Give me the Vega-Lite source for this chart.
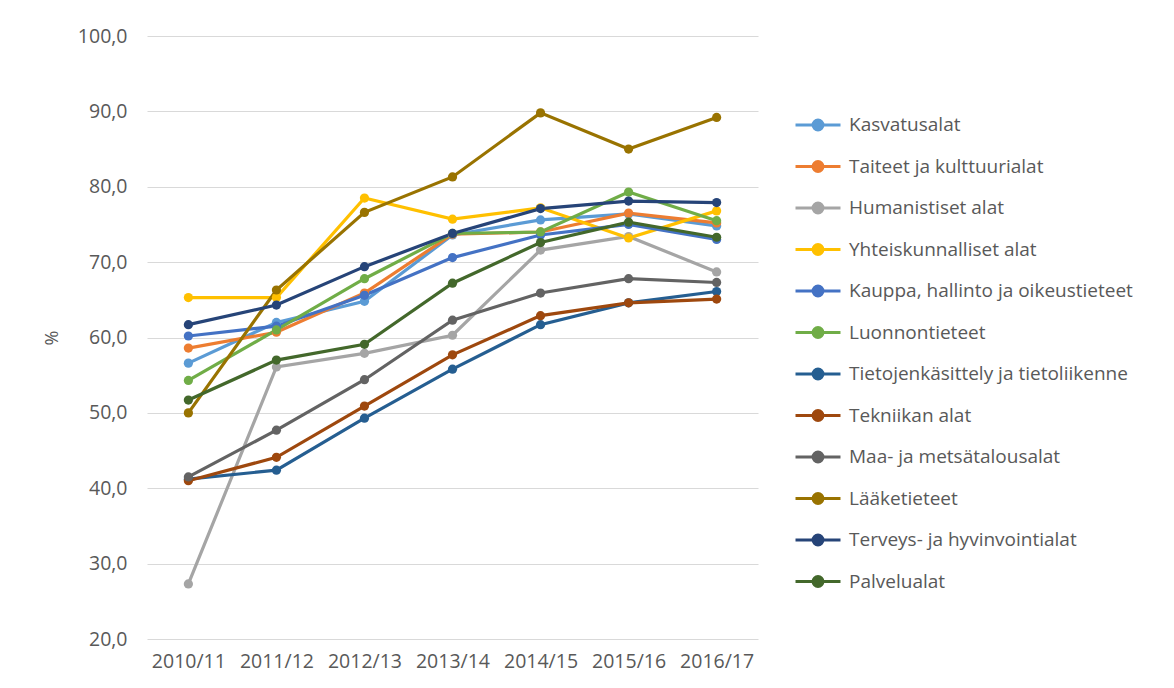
{
  "$schema": "https://vega.github.io/schema/vega-lite/v6.json",
  "autosize": "none",
  "width": 611,
  "height": 603,
  "padding": {"left": 147, "top": 36, "right": 416, "bottom": 49},
  "background": "white",
  "config": {
    "view": {"stroke": null},
    "font": "Open Sans",
    "axis": {"labelFont": "Open Sans", "labelColor": "#595959", "titleColor": "#595959", "titleFont": "Open Sans"}
  },
  "datasets": {
    "d": [
      {"ala": "Kasvatusalat", "vuosi": "2010/11", "osuus": 56.6},
      {"ala": "Kasvatusalat", "vuosi": "2011/12", "osuus": 62.0},
      {"ala": "Kasvatusalat", "vuosi": "2012/13", "osuus": 64.8},
      {"ala": "Kasvatusalat", "vuosi": "2013/14", "osuus": 73.6},
      {"ala": "Kasvatusalat", "vuosi": "2014/15", "osuus": 75.6},
      {"ala": "Kasvatusalat", "vuosi": "2015/16", "osuus": 76.4},
      {"ala": "Kasvatusalat", "vuosi": "2016/17", "osuus": 74.8},

      {"ala": "Taiteet ja kulttuurialat", "vuosi": "2010/11", "osuus": 58.6},
      {"ala": "Taiteet ja kulttuurialat", "vuosi": "2011/12", "osuus": 60.7},
      {"ala": "Taiteet ja kulttuurialat", "vuosi": "2012/13", "osuus": 65.9},
      {"ala": "Taiteet ja kulttuurialat", "vuosi": "2013/14", "osuus": 73.7},
      {"ala": "Taiteet ja kulttuurialat", "vuosi": "2014/15", "osuus": 74.0},
      {"ala": "Taiteet ja kulttuurialat", "vuosi": "2015/16", "osuus": 76.5},
      {"ala": "Taiteet ja kulttuurialat", "vuosi": "2016/17", "osuus": 75.2},

      {"ala": "Humanistiset alat", "vuosi": "2010/11", "osuus": 27.3},
      {"ala": "Humanistiset alat", "vuosi": "2011/12", "osuus": 56.1},
      {"ala": "Humanistiset alat", "vuosi": "2012/13", "osuus": 57.9},
      {"ala": "Humanistiset alat", "vuosi": "2013/14", "osuus": 60.3},
      {"ala": "Humanistiset alat", "vuosi": "2014/15", "osuus": 71.6},
      {"ala": "Humanistiset alat", "vuosi": "2015/16", "osuus": 73.4},
      {"ala": "Humanistiset alat", "vuosi": "2016/17", "osuus": 68.7},

      {"ala": "Yhteiskunnalliset alat", "vuosi": "2010/11", "osuus": 65.3},
      {"ala": "Yhteiskunnalliset alat", "vuosi": "2011/12", "osuus": 65.3},
      {"ala": "Yhteiskunnalliset alat", "vuosi": "2012/13", "osuus": 78.5},
      {"ala": "Yhteiskunnalliset alat", "vuosi": "2013/14", "osuus": 75.7},
      {"ala": "Yhteiskunnalliset alat", "vuosi": "2014/15", "osuus": 77.2},
      {"ala": "Yhteiskunnalliset alat", "vuosi": "2015/16", "osuus": 73.2},
      {"ala": "Yhteiskunnalliset alat", "vuosi": "2016/17", "osuus": 76.8},

      {"ala": "Kauppa, hallinto ja oikeustieteet", "vuosi": "2010/11", "osuus": 60.2},
      {"ala": "Kauppa, hallinto ja oikeustieteet", "vuosi": "2011/12", "osuus": 61.5},
      {"ala": "Kauppa, hallinto ja oikeustieteet", "vuosi": "2012/13", "osuus": 65.6},
      {"ala": "Kauppa, hallinto ja oikeustieteet", "vuosi": "2013/14", "osuus": 70.6},
      {"ala": "Kauppa, hallinto ja oikeustieteet", "vuosi": "2014/15", "osuus": 73.6},
      {"ala": "Kauppa, hallinto ja oikeustieteet", "vuosi": "2015/16", "osuus": 75.0},
      {"ala": "Kauppa, hallinto ja oikeustieteet", "vuosi": "2016/17", "osuus": 73.0},

      {"ala": "Luonnontieteet", "vuosi": "2010/11", "osuus": 54.3},
      {"ala": "Luonnontieteet", "vuosi": "2011/12", "osuus": 61.0},
      {"ala": "Luonnontieteet", "vuosi": "2012/13", "osuus": 67.8},
      {"ala": "Luonnontieteet", "vuosi": "2013/14", "osuus": 73.8},
      {"ala": "Luonnontieteet", "vuosi": "2014/15", "osuus": 74.0},
      {"ala": "Luonnontieteet", "vuosi": "2015/16", "osuus": 79.3},
      {"ala": "Luonnontieteet", "vuosi": "2016/17", "osuus": 75.5},

      {"ala": "Tietojenkäsittely ja tietoliikenne", "vuosi": "2010/11", "osuus": 41.2},
      {"ala": "Tietojenkäsittely ja tietoliikenne", "vuosi": "2011/12", "osuus": 42.4},
      {"ala": "Tietojenkäsittely ja tietoliikenne", "vuosi": "2012/13", "osuus": 49.3},
      {"ala": "Tietojenkäsittely ja tietoliikenne", "vuosi": "2013/14", "osuus": 55.8},
      {"ala": "Tietojenkäsittely ja tietoliikenne", "vuosi": "2014/15", "osuus": 61.7},
      {"ala": "Tietojenkäsittely ja tietoliikenne", "vuosi": "2015/16", "osuus": 64.6},
      {"ala": "Tietojenkäsittely ja tietoliikenne", "vuosi": "2016/17", "osuus": 66.1},

      {"ala": "Tekniikan alat", "vuosi": "2010/11", "osuus": 41.0},
      {"ala": "Tekniikan alat", "vuosi": "2011/12", "osuus": 44.1},
      {"ala": "Tekniikan alat", "vuosi": "2012/13", "osuus": 50.9},
      {"ala": "Tekniikan alat", "vuosi": "2013/14", "osuus": 57.7},
      {"ala": "Tekniikan alat", "vuosi": "2014/15", "osuus": 62.9},
      {"ala": "Tekniikan alat", "vuosi": "2015/16", "osuus": 64.6},
      {"ala": "Tekniikan alat", "vuosi": "2016/17", "osuus": 65.1},

      {"ala": "Maa- ja metsätalousalat", "vuosi": "2010/11", "osuus": 41.5},
      {"ala": "Maa- ja metsätalousalat", "vuosi": "2011/12", "osuus": 47.7},
      {"ala": "Maa- ja metsätalousalat", "vuosi": "2012/13", "osuus": 54.4},
      {"ala": "Maa- ja metsätalousalat", "vuosi": "2013/14", "osuus": 62.3},
      {"ala": "Maa- ja metsätalousalat", "vuosi": "2014/15", "osuus": 65.9},
      {"ala": "Maa- ja metsätalousalat", "vuosi": "2015/16", "osuus": 67.8},
      {"ala": "Maa- ja metsätalousalat", "vuosi": "2016/17", "osuus": 67.3},

      {"ala": "Lääketieteet", "vuosi": "2010/11", "osuus": 50.0},
      {"ala": "Lääketieteet", "vuosi": "2011/12", "osuus": 66.3},
      {"ala": "Lääketieteet", "vuosi": "2012/13", "osuus": 76.6},
      {"ala": "Lääketieteet", "vuosi": "2013/14", "osuus": 81.3},
      {"ala": "Lääketieteet", "vuosi": "2014/15", "osuus": 89.8},
      {"ala": "Lääketieteet", "vuosi": "2015/16", "osuus": 85.0},
      {"ala": "Lääketieteet", "vuosi": "2016/17", "osuus": 89.2},

      {"ala": "Terveys- ja hyvinvointialat", "vuosi": "2010/11", "osuus": 61.7},
      {"ala": "Terveys- ja hyvinvointialat", "vuosi": "2011/12", "osuus": 64.3},
      {"ala": "Terveys- ja hyvinvointialat", "vuosi": "2012/13", "osuus": 69.4},
      {"ala": "Terveys- ja hyvinvointialat", "vuosi": "2013/14", "osuus": 73.8},
      {"ala": "Terveys- ja hyvinvointialat", "vuosi": "2014/15", "osuus": 77.1},
      {"ala": "Terveys- ja hyvinvointialat", "vuosi": "2015/16", "osuus": 78.1},
      {"ala": "Terveys- ja hyvinvointialat", "vuosi": "2016/17", "osuus": 77.9},

      {"ala": "Palvelualat", "vuosi": "2010/11", "osuus": 51.7},
      {"ala": "Palvelualat", "vuosi": "2011/12", "osuus": 57.0},
      {"ala": "Palvelualat", "vuosi": "2012/13", "osuus": 59.1},
      {"ala": "Palvelualat", "vuosi": "2013/14", "osuus": 67.2},
      {"ala": "Palvelualat", "vuosi": "2014/15", "osuus": 72.6},
      {"ala": "Palvelualat", "vuosi": "2015/16", "osuus": 75.3},
      {"ala": "Palvelualat", "vuosi": "2016/17", "osuus": 73.3}
    ]
  },
  "data": {"name": "d"},
  "encoding": {
    "x": {
      "field": "vuosi", "type": "ordinal",
      "scale": {"type": "point", "padding": 0.47},
      "axis": {"title": null, "labelAngle": 0, "ticks": false, "domain": false, "labelFontSize": 19.5, "labelPadding": 13, "grid": false}
    },
    "y": {
      "field": "osuus", "type": "quantitative",
      "scale": {"domain": [20, 100], "nice": false, "zero": false},
      "axis": {
        "title": "%", "titleFontSize": 18, "titleFontWeight": "normal", "titleAngle": 270, "titlePadding": 16,
        "values": [20, 30, 40, 50, 60, 70, 80, 90, 100],
        "labelExpr": "replace(format(datum.value, '.1f'), '.', ',')",
        "labelFontSize": 19.5, "labelPadding": 20, "ticks": false, "domain": false,
        "grid": true, "gridColor": "#d9d9d9", "gridWidth": 1
      }
    },
    "color": {
      "field": "ala", "type": "nominal",
      "scale": {
        "domain": ["Kasvatusalat", "Taiteet ja kulttuurialat", "Humanistiset alat", "Yhteiskunnalliset alat", "Kauppa, hallinto ja oikeustieteet", "Luonnontieteet", "Tietojenkäsittely ja tietoliikenne", "Tekniikan alat", "Maa- ja metsätalousalat", "Lääketieteet", "Terveys- ja hyvinvointialat", "Palvelualat"],
        "range": ["#5B9BD5", "#ED7D31", "#A5A5A5", "#FFC000", "#4472C4", "#70AD47", "#255E91", "#9E480E", "#636363", "#997300", "#264478", "#43682B"]
      },
      "legend": {
        "title": null,
        "orient": "none",
        "legendX": 660,
        "legendY": 76,
        "symbolType": "M-2,0H2M-0.44,0A0.44,0.44 0 1,1 0.44,0A0.44,0.44 0 1,1 -0.44,0",
        "symbolSize": 506,
        "symbolStrokeWidth": 3,
        "labelFontSize": 19,
        "labelColor": "#595959",
        "labelOffset": 16,
        "rowPadding": 17.5,
        "labelLimit": 400,
        "offset": 0,
        "encode": {
          "symbols": {"update": {"fill": {"scale": "color", "field": "value"}, "fillOpacity": {"value": 1}, "opacity": {"value": 1}, "xc": {"value": 11}}}
        }
      }
    }
  },
  "layer": [
    {"mark": {"type": "line", "strokeWidth": 3.2}},
    {"mark": {"type": "point", "filled": true, "size": 85, "opacity": 1}}
  ]
}
